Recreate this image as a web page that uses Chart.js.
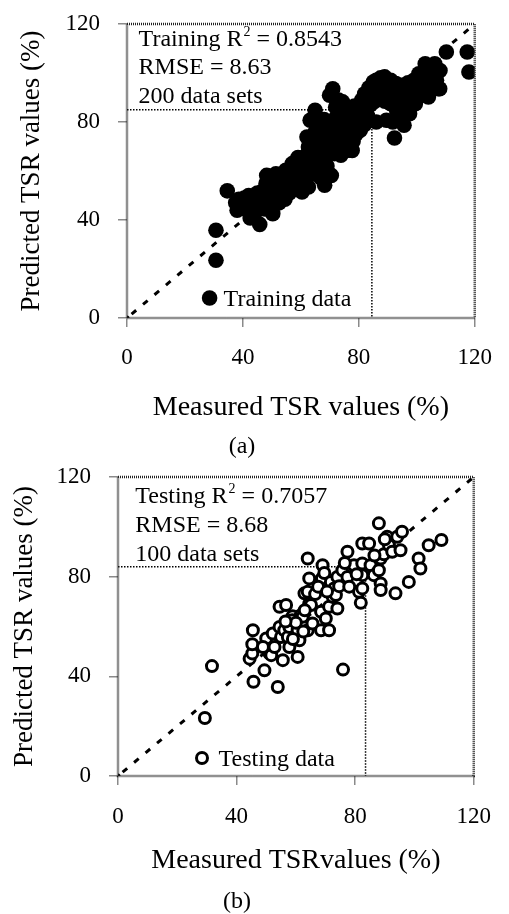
<!DOCTYPE html>
<html>
<head>
<meta charset="utf-8">
<script src="https://cdn.jsdelivr.net/npm/chart.js@4/dist/chart.umd.min.js"></script>
<style>
  html, body { margin: 0; padding: 0; background: #fff; }
  #wrap { position: relative; width: 509px; height: 914px; overflow: hidden; }
  canvas { position: absolute; left: 0; }
</style>
</head>
<body>
<div id="wrap">
  <canvas id="panelA" width="509" height="460" style="top:0"></canvas>
  <canvas id="panelB" width="509" height="454" style="top:460px"></canvas>
</div>
<script>
// Shared tick values for both axes of both panels
const axisTicks = [0, 40, 80, 120];

// Training set: [measured TSR %, predicted TSR %]
const trainingPairs = [
  [30.7,23.6],[30.7,35.8],[34.6,51.9],[37.5,47],[38,44],[38.6,48.5],[39.5,45.5],[40.5,49],
  [41.5,44],[42,50],[42.5,40.8],[43,46.5],[44,48],[44.5,43.5],[45,51],[45.8,38.2],
  [46,46],[46.5,49],[47,52],[47,49],[47.5,44.5],[48,55],[48.2,58.2],[48.5,47.5],[49,50.5],
  [49.5,53],[50,45.5],[50.3,42.6],[50.5,56],[51,49],[51.4,58.9],[51.5,52],[52,54.5],
  [52.5,47],[53,57],[53,50.5],[53.5,52.5],[54,55],[54.5,48.5],[54.8,60.3],[55,53],
  [55.5,57.5],[55.5,59],[56,51],
  [56.5,55],[57,63],[57,58.5],[57.5,52.5],[58,60.5],[58.5,56],[59,62],[59,65.5],[59.5,54],
  [60,58],[60.4,51.4],[60.5,64],[61,60],[61.5,56.5],[61.5,66],[62,62],[62.1,73.9],
  [62.6,53.5],[62.6,69.8],[63,58.5],[63.2,80.7],[63.5,64.5],
  [64,71],[64.5,67],[64.9,84.8],[65,61],[65,76],[65.5,73],[65.8,58.5],[66,63.5],[66,60],[66.5,69.5],
  [66.5,79],[67,57],[67,72.5],[67.1,64.4],[67.5,76.5],[68,66],[68,81],[68.2,54.2],
  [68.5,70],[69,74],[69,62],[69.5,78],[69.9,90.9],[70,67.5],[70.5,58.2],[70.5,72],
  [71,93.6],[71,76],[71.5,81],[71.6,67.1],[72,86],[72,70],[72.5,78.5],[72.5,75],[73,73.5],
  [73,89],[73.5,82],[73.8,66.4],[74,76],[74.4,88.2],[74.5,79.5],[75,71],[75,85],[75.5,74],
  [76,79.3],[76,82.5],[76.5,68.5],[77,77],[77.2,84.8],[77.7,68.4],
  [78,72],[78,80],[78.5,86.5],[79,75],[79,83],[79.4,82],[80,78],[80,85.5],[80.5,76.6],
  [81,81],[81,89],[81.5,84],[82,79],[82,91.5],[82.5,86],[82.8,89.6],[83,82.5],[83.3,90.2],
  [83.5,94],[84,87],[85,96.3],[85,91],[86,80],
  [85.5,88.5],[86,93],[86,97],[87,90.5],[87,95],[87.5,98],[88,92.5],[88.9,98.4],[89,88.5],
  [89.5,80.7],[89.5,95],[90,91],[90.5,93.5],[91,87.5],[91,97],[91.7,80],[92,90],[92.3,73.5],
  [92.8,95.7],[93,85],[93.5,92],[94,89],[94.5,95],[95,82],[95.6,78.7],[95.5,93],
  [96,88],[96.7,84.8],[96.7,90.2],[97,96],[97.3,94.3],[97.5,83.4],[98,91],[98.4,92.9],
  [99,97],[99.5,87.5],[99.5,88.2],[100,94],[100.7,99.7],[101,92],[101.8,97],[102,95],
  [102.9,103.8],[103,98],[103.5,101],[104,90.2],[104.5,96],[105,99],[105.5,103],
  [106.2,103.8],[106.8,97],[107.4,93.6],[107.9,93.6],[108,101],[110.2,108.6],
  [117.4,108.6],[118,100.4]
];

// Testing set: [measured TSR %, predicted TSR %]
const testingPairs = [
  [29.3,23.3],[31.7,44.1],[44.4,47.1],[45.3,49.2],[45.3,52.9],[45.5,58.5],[45.7,37.8],
  [49.4,42.4],[50,55.2],[51.1,49.2],[51.7,48.5],[52.2,57.2],[52.8,51.8],[53.9,35.7],
  [54.5,59.8],[54.5,67.9],[55,55.8],[55.6,46.5],[56.1,58.5],[56.7,68.6],[57.3,55.8],
  [57.8,51.8],[57.8,59.8],[58.9,64.1],[58.8,62.5],[60.6,47.8],[60.6,58.5],[61.2,54.5],
  [61.7,64.5],[62.3,63.9],[62.9,73.3],[64,58.5],[64,73.9],[64,87.3],[64.5,79.3],
  [64.5,69.2],[65.1,68.6],[65.6,61.2],[68.5,58.5],[68.5,65.9],[68.8,79.3],[69,84.6],
  [69.6,81.5],[70.1,63.2],[71.2,58.5],[71.2,67.9],[71.8,77.9],[72.4,71.9],[72.9,75.3],
  [73.5,72.6],[74,67.2],[74,79.9],[74.6,76.2],[75.7,82.6],[75.9,42.7],[77.4,79.9],
  [77.4,90],[79,83.9],[79.6,84.6],[81.3,73.9],[81.9,69.5],[82.4,85.3],[82.4,93.3],
  [82.4,75.3],[82.4,80.6],[84.7,93.3],[85.2,84.6],[86.3,80.6],[88,101.4],[88,82.6],
  [88.6,77.3],[88.6,74.6],[88.6,87.3],[89.7,89],[90.8,96],[91.4,92.6],[92.5,90],
  [93.6,73.3],[94.2,96],[95.3,90.6],[95.8,98],[98.1,77.9],[101.4,87.3],[102,83.3],
  [104.8,92.6],[109.1,94.7],[48.9,51.8],[60,61.5],[62.5,58],[66.5,73],[67.5,76],
  [70.5,74],[76.5,85.5],[80.5,81],[86.5,88.5],[90,95],[59,55],[63,66.5],[56.5,62],[78,76]
];

// Dotted guide lines: [measured, predicted] corner of the L
const trainingGuide = [84.5, 85];
const testingGuide = [83.5, 84];

// Fit statistics shown in the upper-left corner of each panel
const trainingStats = ['Training', '0.8543', '8.63', '200'];
const testingStats = ['Testing', '0.7057', '8.68', '100'];

const SERIF = "'Liberation Serif', 'Times New Roman', serif";

// Frame, statistics block and inline legend drawn on top of the plot area
const panelText = {
  id: 'panelText',
  afterDatasetsDraw(chart, args, o) {
    const { ctx, chartArea: a } = chart;
    ctx.save();
    ctx.setLineDash([1, 1]);
    ctx.lineWidth = 2.5;
    ctx.strokeStyle = '#222';
    ctx.strokeRect(a.left, a.top, a.right - a.left, a.bottom - a.top);
    ctx.setLineDash([]);

    const font = s => s + 'px ' + SERIF;
    ctx.fillStyle = '#000';
    ctx.textAlign = 'left';
    ctx.textBaseline = 'alphabetic';
    const x0 = a.left + o.textLeft;
    const y1 = a.top + o.baselines[0];
    ctx.font = font(o.size);
    const head = o.stats[0] + ' R';
    ctx.fillText(head, x0, y1);
    let x = x0 + ctx.measureText(head).width + 1;
    ctx.font = font(o.supSize);
    ctx.fillText('2', x, y1 - o.supRise);
    x += ctx.measureText('2').width;
    ctx.font = font(o.size);
    ctx.fillText(' = ' + o.stats[1], x, y1);
    ctx.fillText('RMSE = ' + o.stats[2], x0, a.top + o.baselines[1]);
    ctx.fillText(o.stats[3] + ' data sets', x0, a.top + o.baselines[2]);

    const ds = chart.data.datasets[0];
    const cx = a.left + o.legendLeft;
    const cy = a.bottom - o.legendRise;
    ctx.beginPath();
    ctx.arc(cx, cy, ds.pointRadius, 0, Math.PI * 2);
    ctx.fillStyle = ds.pointBackgroundColor;
    ctx.fill();
    if (ds.pointBorderWidth) {
      ctx.lineWidth = ds.pointBorderWidth;
      ctx.strokeStyle = '#000';
      ctx.stroke();
    }
    ctx.fillStyle = '#000';
    ctx.fillText(ds.label, a.left + o.legendTextLeft, cy + o.legendTextDrop);
    ctx.restore();
  }
};

function axis(p, horizontal) {
  return {
    type: 'linear',
    min: 0,
    max: 120,
    afterBuildTicks: s => { s.ticks = axisTicks.map(v => ({ value: v })); },
    afterFit: s => {
      if (horizontal) {
        s.height = p.xHeight;
      } else {
        s.width = p.yWidth;
        s.paddingTop = 0;
        s.paddingBottom = 0;
      }
    },
    border: { display: false },
    grid: { drawOnChartArea: false, drawTicks: true, tickLength: 9, color: '#8a8a8a', lineWidth: 1.5 },
    ticks: {
      font: { family: SERIF, size: 23 },
      color: '#000',
      padding: horizontal ? p.xTickPad : 18,
      maxRotation: 0
    },
    title: horizontal
      ? { display: true, text: p.xTitle, color: '#000', font: { family: SERIF, size: 28 }, padding: { top: 0, bottom: p.xTitlePad } }
      : { display: true, text: 'Predicted TSR values (%)', color: '#000', font: { family: SERIF, size: 27 }, padding: { top: p.yTitlePad, bottom: 0 } }
  };
}

function buildPanel(id, p) {
  return new Chart(document.getElementById(id), {
    type: 'scatter',
    data: {
      datasets: [
        {
          label: p.legend,
          data: p.pairs.map(([x, y]) => ({ x, y })),
          order: 0,
          pointRadius: p.radius,
          pointHoverRadius: p.radius,
          pointBorderWidth: p.border,
          pointBackgroundColor: p.fill,
          pointBorderColor: '#000'
        },
        {
          type: 'line',
          label: 'line of equality',
          data: [{ x: 0, y: 0 }, { x: 120, y: 120 }],
          order: 2,
          borderColor: '#000',
          borderWidth: 3,
          borderDash: [6, 9],
          borderDashOffset: -6,
          pointRadius: [2.5, 0],
          pointBorderWidth: 0,
          pointBackgroundColor: '#000',
          tension: 0
        },
        {
          type: 'line',
          label: 'guide',
          data: [{ x: 0, y: p.guide[1] }, { x: p.guide[0], y: p.guide[1] }, { x: p.guide[0], y: 0 }],
          order: 1,
          borderColor: '#000',
          borderWidth: 1.5,
          borderDash: [1.5, 1.5],
          pointRadius: 0,
          tension: 0
        }
      ]
    },
    options: {
      responsive: false,
      animation: false,
      devicePixelRatio: 1,
      events: [],
      layout: { padding: { left: 0, right: p.padRight, top: p.padTop, bottom: 0 } },
      scales: { x: axis(p, true), y: axis(p, false) },
      plugins: {
        legend: { display: false },
        tooltip: { enabled: false },
        title: {
          display: true,
          text: p.caption,
          position: 'bottom',
          color: '#000',
          font: { family: SERIF, size: 24, lineHeight: 1, weight: 'normal' },
          padding: { top: 0, bottom: p.capPad }
        },
        panelText: p.text
      }
    },
    plugins: [panelText]
  });
}

buildPanel('panelA', {
  pairs: trainingPairs, guide: trainingGuide, legend: 'Training data',
  radius: 7.8, border: 0, fill: '#000',
  padRight: 25, padTop: 24, yWidth: 127, xHeight: 117,
  xTickPad: 17, xTitlePad: 11, yTitlePad: 16, capPad: 1,
  xTitle: 'Measured TSR values (%)', caption: '(a)',
  text: { stats: trainingStats, textLeft: 11.6, baselines: [22.3, 50.3, 79], size: 24, supSize: 14, supRise: 10,
          legendLeft: 82.6, legendRise: 20, legendTextLeft: 96.6, legendTextDrop: 7.5 }
});

buildPanel('panelB', {
  pairs: testingPairs, guide: testingGuide, legend: 'Testing data',
  radius: 5.5, border: 3, fill: '#fff',
  padRight: 35, padTop: 17, yWidth: 118, xHeight: 114,
  xTickPad: 18, xTitlePad: 13, yTitlePad: 9, capPad: 0,
  xTitle: 'Measured TSRvalues (%)', caption: '(b)',
  text: { stats: testingStats, textLeft: 17.3, baselines: [26, 55.4, 84.4], size: 24, supSize: 14, supRise: 10,
          legendLeft: 84, legendRise: 18, legendTextLeft: 100.6, legendTextDrop: 7.5 }
});
</script>
</body>
</html>
